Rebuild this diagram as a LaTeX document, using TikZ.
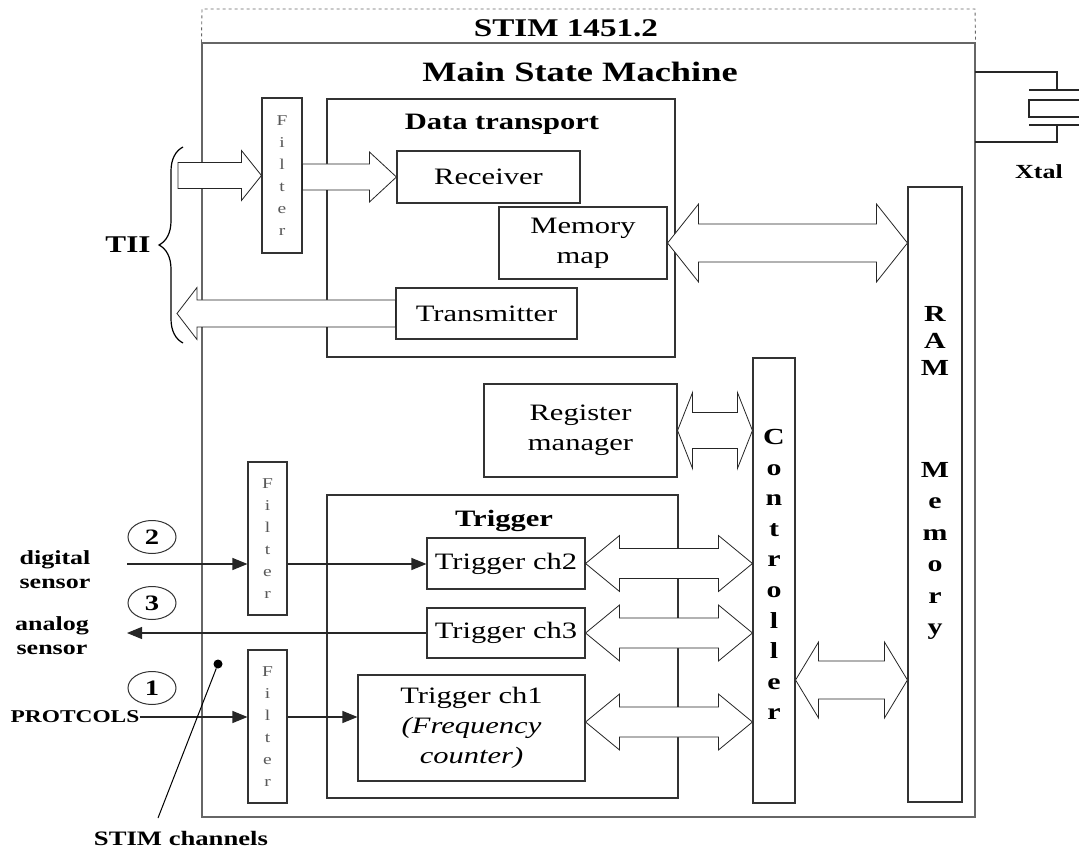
\documentclass[tikz,border=0pt]{standalone}
\usepackage{fontspec}
\setmainfont{Liberation Serif}[FakeStretch=1.3]
\usetikzlibrary{arrows.meta, calc, shapes.geometric, decorations.pathreplacing}

% hollow block arrows: tail, tip, shaft half width, head half width, head length
\newcommand{\blockarrow}[5]{%
  \draw[barrow] let \p1=#1, \p2=#2, \n1={sign(\x2-\x1)} in
    (\x1,\y2+#3) -- (\x2-\n1*#5,\y2+#3) -- (\x2-\n1*#5,\y2+#4) -- (\x2,\y2)
    -- (\x2-\n1*#5,\y2-#4) -- (\x2-\n1*#5,\y2-#3) -- (\x1,\y2-#3) -- cycle;}
\newcommand{\dblarrow}[5]{%
  \draw[barrow] let \p1=#1, \p2=#2 in
    (\x1,\y1) -- (\x1+#5,\y1+#4) -- (\x1+#5,\y1+#3) -- (\x2-#5,\y1+#3)
    -- (\x2-#5,\y1+#4) -- (\x2,\y1) -- (\x2-#5,\y1-#4) -- (\x2-#5,\y1-#3)
    -- (\x1+#5,\y1-#3) -- (\x1+#5,\y1-#4) -- cycle;}

\begin{document}
\begin{tikzpicture}[x=1pt, y=-1pt,
    box/.style 2 args={rectangle, draw=black!80, line width=1.1pt, fill=white,
                       inner sep=0pt, minimum width=#1, minimum height=#2},
    lab/.style={font=\fontsize{23.5}{30}\selectfont, align=center},
    head/.style={font=\bfseries\fontsize{#1}{#1}\selectfont, inner sep=0pt},
    side/.style={font=\bfseries\fontsize{20}{24}\selectfont, align=center, inner sep=0pt},
    filt/.style={font=\fontsize{15}{22}\selectfont, text=black!65, align=center},
    vert/.style={font=\bfseries\fontsize{23}{#1}\selectfont, align=center, inner sep=0pt},
    num/.style={ellipse, draw=black!80, line width=1pt, minimum width=48pt,
                minimum height=33pt, inner sep=0pt, font=\bfseries\fontsize{22}{22}\selectfont},
    sig/.style={-{Triangle[length=15pt, width=12pt]}, line width=1.1pt, draw=black!85},
    barrow/.style={draw=black!85, fill=white, line width=0.8pt},
    wire/.style={draw=black!85, line width=1.1pt}
]
\useasboundingbox (0,0) rectangle (1079,850);

% STIM frame
\node[box={773}{774}, draw=black!60] (msm) at (588.5,430) {};
\coordinate (hdrL) at (202,9);
\coordinate (hdrR) at (975,9);
\draw[dashed, draw=black!60, line width=0.9pt] (msm.north west) -- (hdrL) -- (hdrR) -- (msm.north east);
\node[head=25.5] (stim) at (566,28) {STIM 1451.2};
\node[head=28] (msmtitle) at (580,72) {Main State Machine};

% data transport
\node[box={348}{258}] (dt) at (501,228) {};
\node[head=23.5] (dttitle) at (502,124) {Data transport};
\node[box={183}{52}, lab] (rcv) at (488.5,177) {Receiver};
\node[box={168}{72}, lab] (mmap) at (583,243) {Memory\\map};
\node[box={181}{51}, lab] (tx) at (486.5,313.5) {Transmitter};
\node[box={40}{155}, filt] (filt1) at (282,175.5) {F\\i\\l\\t\\e\\r};

% register manager, controller, RAM
\node[box={193}{93}, lab] (reg) at (580.5,430.5) {Register\\manager};
\node[box={42}{445}] (ctrl) at (774,580.5) {};
\node[vert=30.6] (ctrltxt) at ([yshift=6pt]ctrl.center) {C\\o\\n\\t\\r\\o\\l\\l\\e\\r};
\node[box={54}{615}] (ram) at (935,494.5) {};
\node[vert=27] (ramtxt) at (935,341) {R\\A\\M};
\node[vert=31.4] (memtxt) at (935,551) {M\\e\\m\\o\\r\\y};

% trigger
\node[box={351}{303}] (trig) at (502.5,646.5) {};
\node[head=23.5] (trigtitle) at (504,521) {Trigger};
\node[box={158}{51}, lab] (ch2) at (506,563.5) {Trigger ch2};
\node[box={158}{50}, lab] (ch3) at (506,633) {Trigger ch3};
\node[box={227}{106}, lab] (ch1) at (471.5,728) {Trigger ch1\\\textit{(Frequency}\\\textit{counter)}};
\node[box={39}{153}, filt] (filt2) at (267.5,538.5) {F\\i\\l\\t\\e\\r};
\node[box={39}{153}, filt] (filt3) at (267.5,726.5) {F\\i\\l\\t\\e\\r};

% channels
\node[num] (n2) at (152,537) {2};
\node[num] (n3) at (152,603) {3};
\node[num] (n1) at (152,688) {1};
\node[side] (dig) at (55,570) {digital\\sensor};
\node[side] (ana) at (52,636) {analog\\sensor};
\node[side, font=\bfseries\fontsize{18}{18}\selectfont] (prot) at (75,717) {PROTCOLS};
\coordinate (dsin) at (127,564);
\coordinate (asout) at (127,633);
\draw[sig] (dsin) -- (filt2.west |- dsin);
\draw[sig] (filt2.east |- dsin) -- (ch2.west |- dsin);
\draw[sig] (ch3.west) -- (asout);
\draw[sig] (prot.east) -- (filt3.west |- prot.east);
\draw[sig] (filt3.east |- prot.east) -- (ch1.west |- prot.east);

\node[head=20.5] (chan) at (181,838) {STIM channels};
\node[circle, fill=black, inner sep=0pt, minimum size=9pt] (chdot) at (218,664) {};
\coordinate (chtail) at (158,818);
\draw[line width=1pt] (chtail) -- (chdot);

% TII
\coordinate (tiiB) at (183,343);
\coordinate (tiiT) at (183,147);
\draw[decorate, decoration={brace, amplitude=24pt}, line width=1.2pt] (tiiB) -- (tiiT);
\node[head=24] (tii) at (128,245) {TII};

% crystal
\draw[wire] (975,72) -| (1057,90);
\draw[wire] (1029,90) -- (1085,90);
\draw[wire] (1029,100) rectangle (1095,117);
\draw[wire] (1029,125) -- (1085,125);
\draw[wire] (1057,125) |- (975,142);
\node[head=20] (xtal) at (1039,172) {Xtal};

% buses
\coordinate (rxin) at (178,176);
\coordinate (txout) at (177,313.5);
\coordinate (ch1bus) at (ch1.east |- 0,722);
\coordinate (ctrlbus) at (ctrl.east |- 0,680);
\coordinate (rambus) at (ram.west |- 0,680);
\blockarrow{(rxin)}{(filt1.west)}{13pt}{25pt}{20pt}
\blockarrow{(filt1.east)}{(rcv.west)}{13pt}{25pt}{27pt}
\blockarrow{(tx.west)}{(txout)}{13.5pt}{26pt}{20pt}
\dblarrow{(mmap.east)}{(ram.west |- mmap.east)}{19pt}{39pt}{31pt}
\dblarrow{(reg.east)}{(ctrl.west |- reg.east)}{18pt}{38pt}{15pt}
\dblarrow{(ch2.east)}{(ctrl.west |- ch2.east)}{15pt}{28pt}{34pt}
\dblarrow{(ch3.east)}{(ctrl.west |- ch3.east)}{15pt}{28pt}{34pt}
\dblarrow{(ch1bus)}{(ctrl.west |- ch1bus)}{15pt}{28pt}{34pt}
\dblarrow{(ctrlbus)}{(rambus)}{19pt}{38pt}{23pt}
\end{tikzpicture}
\end{document}
